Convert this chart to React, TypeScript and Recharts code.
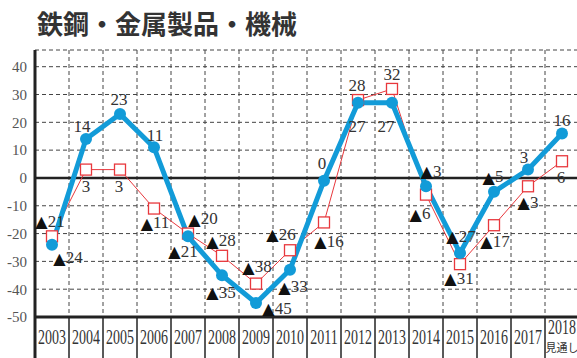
import React from 'react';
import { LineChart, Line, XAxis, YAxis, CartesianGrid, ReferenceLine, LabelList } from 'recharts';

const years = ['2003', '2004', '2005', '2006', '2007', '2008', '2009', '2010', '2011', '2012', '2013', '2014', '2015', '2016', '2017', '2018'];
const forecastNote = '見通し';

// blue: plotted value and printed value (2011 is drawn a bit under 0 but printed as 0)
const blueValues = [-24, 14, 23, 11, -21, -35, -45, -33, -1, 27, 27, -3, -27, -5, 3, 16];
const blueShown = [-24, 14, 23, 11, -21, -35, -45, -33, 0, 27, 27, -3, -27, -5, 3, 16];
const redValues = [-21, 3, 3, -11, -20, -28, -38, -26, -16, 28, 32, -6, -31, -17, -3, 6];

const yTicks = [-50, -40, -30, -20, -10, 0, 10, 20, 30, 40];

// where each value label sits relative to its point (text centre, px)
const blueLabelPos = [
  [16, 13], [-4, -13], [-1, -14], [1, -12], [-5, 15], [-1, 17], [21, 5], [3, 17],
  [-2, -17], [-1, 24], [-6, 24], [5, -15], [1, -17], [-1, -15], [-4, -12], [0, -13],
];
const redLabelPos = [
  [-2, -15], [0, 17], [-1, 17], [1, 14], [15, -15], [-1, -15], [1, -17], [-9, -16],
  [5, 19], [-1, -15], [0, -14], [-6, 19], [-1, 14], [1, 16], [0, 16], [-1, 16],
];

const data = years.map((year, i) => ({ year, blue: blueValues[i], red: redValues[i] }));

const W = 579;
const H = 358;
const TOP = 50;
const LEFT = 35;
const AXIS_H = 41;
const PLOT_H = H - TOP - AXIS_H;
const CELL = (W - LEFT) / years.length;

const BLUE = '#129bd8';
const RED = '#e8383d';
const SERIF = "'Liberation Serif', 'DejaVu Serif', serif";

const makeLabel = (shown: number[], pos: number[][]) => (props: any) => {
  const { index } = props;
  const x = props.x ?? props.viewBox?.x;
  const y = props.y ?? props.viewBox?.y;
  if (x == null || y == null || index == null) return null;
  const v = shown[index];
  const [dx, dy] = pos[index];
  return (
    <text
      x={x + dx}
      y={y + dy}
      textAnchor="middle"
      dominantBaseline="central"
      fontFamily={SERIF}
      fontSize={17}
      fill="#333"
    >
      {v < 0 && (
        <tspan fontFamily="'DejaVu Sans'" fontSize={16} fill="#111">▲</tspan>
      )}
      {Math.abs(v)}
    </text>
  );
};

const SquareDot = (props: any) => {
  const { cx, cy } = props;
  if (cx == null || cy == null) return null;
  return <rect x={cx - 5.5} y={cy - 5.5} width={11} height={11} fill="#fff" stroke={RED} strokeWidth={1.3} />;
};

const YearTick = (props: any) => {
  const { x, payload, index } = props;
  const top = TOP + PLOT_H;
  const last = index === years.length - 1;
  return (
    <g>
      <line x1={x - CELL / 2} x2={x - CELL / 2} y1={top} y2={H} stroke="#222" strokeWidth={index === 0 ? 3 : 1} />
      <line x1={x + CELL / 2} x2={x + CELL / 2} y1={top} y2={H} stroke="#222" strokeWidth={1} />
      <g transform={`translate(${x},${last ? top + 11 : top + 21}) scale(0.7,1)`}>
        <text textAnchor="middle" dominantBaseline="central" fontFamily={SERIF} fontSize={20} fill="#333">
          {payload.value}
        </text>
      </g>
      {last && (
        <text
          x={x}
          y={top + 30}
          textAnchor="middle"
          dominantBaseline="central"
          fontFamily="'Noto Sans CJK JP', sans-serif"
          fontSize={11}
          fill="#333"
        >
          {forecastNote}
        </text>
      )}
    </g>
  );
};

export default function App() {
  return (
    <div style={{ position: 'absolute', left: 0, top: 0, width: 577, height: 358, overflow: 'hidden', background: '#fff' }}>
      <div
        style={{
          position: 'absolute',
          left: 37,
          top: 10,
          fontFamily: "'Noto Sans CJK JP', sans-serif",
          fontWeight: 700,
          fontSize: 26,
          lineHeight: '26px',
          color: '#333',
          whiteSpace: 'nowrap',
        }}
      >
        鉄鋼・金属製品・機械
      </div>
      <LineChart width={W} height={H} data={data} margin={{ top: TOP, right: 0, bottom: 0, left: 0 }}>
        <CartesianGrid
          stroke="#444"
          strokeDasharray="4 3"
          verticalCoordinatesGenerator={({ offset }: any) =>
            years.slice(1).map((_, k) => offset.left + ((k + 1) * offset.width) / years.length)
          }
        />
        <XAxis
          dataKey="year"
          interval={0}
          height={AXIS_H}
          padding={{ left: CELL / 2, right: CELL / 2 }}
          tickLine={false}
          axisLine={{ stroke: '#222', strokeWidth: 3 }}
          tick={<YearTick />}
        />
        <YAxis
          width={LEFT}
          domain={[-50, 46]}
          ticks={yTicks}
          interval={0}
          tickLine={false}
          axisLine={{ stroke: '#222', strokeWidth: 3 }}
          tick={{ fill: '#555', fontSize: 15, fontFamily: SERIF }}
        />
        <ReferenceLine y={0} stroke="#222" strokeWidth={2.5} />
        <Line
          dataKey="red"
          stroke={RED}
          strokeWidth={1}
          dot={<SquareDot />}
          activeDot={false}
          isAnimationActive={false}
        >
          <LabelList dataKey="red" content={makeLabel(redValues, redLabelPos)} />
        </Line>
        <Line
          dataKey="blue"
          stroke={BLUE}
          strokeWidth={5}
          dot={{ r: 6, fill: BLUE, stroke: BLUE, strokeWidth: 0 }}
          activeDot={false}
          isAnimationActive={false}
        >
          <LabelList dataKey="blue" content={makeLabel(blueShown, blueLabelPos)} />
        </Line>
      </LineChart>
    </div>
  );
}
